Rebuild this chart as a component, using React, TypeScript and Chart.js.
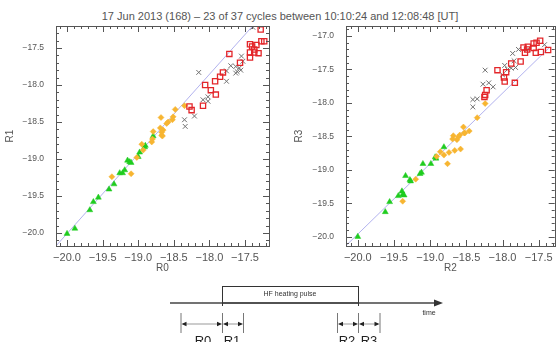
import React, { useEffect, useRef } from "react";
import { Chart, registerables } from "chart.js";
Chart.register(...registerables);

const TITLE = "17 Jun 2013 (168) \u2013 23 of 37 cycles between 10:10:24 and 12:08:48 [UT]";

// Left panel: R0 (x) vs R1 (y)
const leftRed = [[-17.28,-17.25],[-17.72,-17.58],[-17.43,-17.45],[-17.40,-17.48],[-17.34,-17.46],[-17.37,-17.52],[-17.43,-17.56],[-17.37,-17.56],[-17.31,-17.57],[-17.43,-17.63],[-17.27,-17.41],[-17.23,-17.41],[-17.57,-17.70],[-17.81,-17.83],[-17.85,-17.89],[-17.92,-17.95],[-18.06,-18.00],[-17.98,-18.07],[-17.91,-18.13],[-18.09,-18.28],[-18.28,-18.29],[-18.25,-18.34]];
const leftGray = [[-17.39,-17.22],[-17.55,-17.61],[-17.53,-17.68],[-17.63,-17.75],[-17.58,-17.77],[-17.56,-17.80],[-17.61,-17.82],[-17.63,-17.84],[-17.70,-17.74],[-17.76,-17.81],[-17.76,-17.95],[-18.15,-17.83],[-18.02,-18.16],[-18.09,-18.20],[-18.02,-18.22],[-18.21,-18.42],[-18.35,-18.47],[-18.34,-18.56]];
const leftOrange = [[-18.48,-18.33],[-18.35,-18.28],[-18.68,-18.44],[-18.51,-18.43],[-18.52,-18.47],[-18.58,-18.50],[-18.60,-18.52],[-18.69,-18.58],[-18.65,-18.61],[-18.79,-18.63],[-18.67,-18.64],[-18.67,-18.68],[-18.66,-18.69],[-18.80,-18.73],[-18.81,-18.77],[-18.95,-18.80],[-18.93,-18.88],[-19.02,-18.98],[-19.10,-19.20],[-19.37,-19.24]];
const leftGreen = [[-18.79,-18.69],[-18.90,-18.82],[-18.91,-18.84],[-18.98,-18.91],[-19.00,-18.97],[-19.15,-19.02],[-19.12,-19.04],[-19.10,-19.05],[-19.19,-19.15],[-19.22,-19.19],[-19.26,-19.19],[-19.34,-19.34],[-19.41,-19.41],[-19.56,-19.52],[-19.63,-19.58],[-19.68,-19.69],[-19.89,-19.94],[-20.00,-20.01]];
const leftFit = [[-20.155,-20.175],[-17.39,-17.2]];

// Right panel: R2 (x) vs R3 (y)
const rightRed = [[-17.48,-17.07],[-17.53,-17.10],[-17.57,-17.11],[-17.65,-17.16],[-17.71,-17.17],[-17.66,-17.20],[-17.57,-17.18],[-17.69,-17.25],[-17.54,-17.25],[-17.47,-17.24],[-17.37,-17.21],[-17.75,-17.38],[-17.88,-17.41],[-18.07,-17.51],[-17.95,-17.54],[-17.98,-17.62],[-17.97,-17.68],[-17.83,-17.70],[-18.22,-17.81],[-18.24,-17.88],[-18.25,-17.91]];
const rightGray = [[-17.42,-17.13],[-17.65,-17.20],[-17.78,-17.20],[-17.86,-17.26],[-17.84,-17.37],[-17.97,-17.44],[-17.82,-17.47],[-17.88,-17.48],[-17.93,-17.50],[-18.00,-17.58],[-18.24,-17.51],[-18.19,-17.70],[-18.27,-17.72],[-18.13,-17.76],[-18.41,-17.95],[-18.35,-17.94],[-18.41,-18.06]];
const rightOrange = [[-18.24,-18.01],[-18.35,-18.22],[-18.54,-18.36],[-18.52,-18.45],[-18.46,-18.42],[-18.68,-18.49],[-18.59,-18.48],[-18.61,-18.51],[-18.69,-18.54],[-18.63,-18.55],[-18.53,-18.45],[-18.58,-18.69],[-18.66,-18.71],[-18.86,-18.73],[-18.81,-18.78],[-18.74,-18.74],[-18.91,-18.80],[-18.76,-18.91],[-19.20,-19.14],[-19.38,-19.47]];
const rightGreen = [[-18.81,-18.66],[-18.93,-18.81],[-18.92,-18.83],[-18.99,-18.91],[-19.10,-18.91],[-19.12,-19.04],[-19.14,-19.06],[-19.28,-19.15],[-19.27,-19.17],[-19.34,-19.09],[-19.39,-19.32],[-19.38,-19.37],[-19.44,-19.39],[-19.36,-19.38],[-19.56,-19.48],[-19.62,-19.63],[-20.00,-20.00]];
const rightFit = [[-20.16,-20.13],[-17.36,-17.18]];

const leftXTicks = [-20.0, -19.5, -19.0, -18.5, -18.0, -17.5];
const leftYTicks = [-20.0, -19.5, -19.0, -18.5, -18.0, -17.5];
const rightXTicks = [-20.0, -19.5, -19.0, -18.5, -18.0, -17.5];
const rightYTicks = [-20.0, -19.5, -19.0, -18.5, -18.0, -17.5, -17.0];

const toPts = (a: number[][]) => a.map(([x, y]) => ({ x, y }));
const fmt = (v: number) => (v < 0 ? "\u2212" : "") + Math.abs(v).toFixed(1);
const TEXT = "#555";

const framePlugin = {
  id: "frameTicks",
  afterDatasetsDraw(chart: any) {
    const { ctx, chartArea: a, scales } = chart;
    const xs = scales.x, ys = scales.y;
    ctx.save();
    ctx.strokeStyle = "#555";
    ctx.lineWidth = 1;
    ctx.strokeRect(Math.round(a.left) + 0.5, Math.round(a.top) + 0.5, Math.round(a.right - a.left), Math.round(a.bottom - a.top));
    const ln = (x1: number, y1: number, x2: number, y2: number) => {
      ctx.beginPath(); ctx.moveTo(x1, y1); ctx.lineTo(x2, y2); ctx.stroke();
    };
    for (let k = Math.ceil(xs.min * 10 - 1e-6); k <= Math.floor(xs.max * 10 + 1e-6); k++) {
      const len = k % 5 === 0 ? 6 : 3;
      const px = Math.round(xs.getPixelForValue(k / 10)) + 0.5;
      ln(px, a.bottom, px, a.bottom - len);
      ln(px, a.top, px, a.top + len);
    }
    for (let k = Math.ceil(ys.min * 10 - 1e-6); k <= Math.floor(ys.max * 10 + 1e-6); k++) {
      const len = k % 5 === 0 ? 6 : 3;
      const py = Math.round(ys.getPixelForValue(k / 10)) + 0.5;
      ln(a.left, py, a.left + len, py);
      ln(a.right, py, a.right - len, py);
    }
    ctx.restore();
  },
};

function makeConfig(p: any): any {
  return {
    type: "scatter",
    data: {
      datasets: [
        { data: toPts(p.red), pointStyle: "rect", radius: 3.7, borderColor: "#e3262a", backgroundColor: "rgba(255,255,255,0)", borderWidth: 1.3 },
        { data: toPts(p.gray), pointStyle: "crossRot", radius: 3.4, borderColor: "#707070", backgroundColor: "#707070", borderWidth: 1 },
        { data: toPts(p.orange), pointStyle: "rectRot", radius: 3, borderColor: "#f7b531", backgroundColor: "#f7b531", borderWidth: 0.5 },
        { data: toPts(p.green), pointStyle: "triangle", radius: 3.4, borderColor: "#1fcc1f", backgroundColor: "#1fcc1f", borderWidth: 0.5 },
        { type: "line", data: toPts(p.fit), borderColor: "rgba(165,165,235,0.85)", borderWidth: 1, pointRadius: 0, fill: false },
      ],
    },
    options: {
      responsive: false,
      maintainAspectRatio: false,
      animation: false,
      devicePixelRatio: 1,
      layout: { padding: { left: 0, top: 26, right: p.padRight, bottom: 0 } },
      plugins: { legend: { display: false }, tooltip: { enabled: false } },
      scales: {
        x: {
          type: "linear", min: p.xmin, max: p.xmax,
          grid: { display: false, drawTicks: false }, border: { display: false },
          afterBuildTicks: (s: any) => { s.ticks = p.xTicks.map((v: number) => ({ value: v })); },
          afterFit: (s: any) => { s.height = 34; },
          ticks: { padding: 5, color: TEXT, font: { family: "Liberation Sans", size: 11 }, callback: (v: any) => fmt(Number(v)), maxRotation: 0, autoSkip: false },
          title: { display: true, text: p.xTitle, color: TEXT, font: { family: "Liberation Sans", size: 10 }, padding: { top: 0, bottom: 6 } },
        },
        y: {
          type: "linear", min: p.ymin, max: p.ymax,
          grid: { display: false, drawTicks: false }, border: { display: false },
          afterBuildTicks: (s: any) => { s.ticks = p.yTicks.map((v: number) => ({ value: v })); },
          afterFit: (s: any) => { s.width = p.yWidth; },
          ticks: { padding: 12, color: TEXT, font: { family: "Liberation Sans", size: 8.5 }, callback: (v: any) => fmt(Number(v)), autoSkip: false },
          title: { display: true, text: p.yTitle, color: TEXT, font: { family: "Liberation Sans", size: 10 }, padding: { top: p.yTitlePad, bottom: 0 } },
        },
      },
    },
    plugins: [framePlugin],
  };
}

function drawDiagram(c: HTMLCanvasElement) {
  const ctx = c.getContext("2d")!;
  const oy = 280;
  ctx.clearRect(0, 0, c.width, c.height);
  ctx.save();
  ctx.translate(0, -oy);
  const ln = (x1: number, y1: number, x2: number, y2: number) => {
    ctx.beginPath(); ctx.moveTo(x1, y1); ctx.lineTo(x2, y2); ctx.stroke();
  };
  const tri = (x: number, y: number, dir: number, l: number, w: number) => {
    ctx.beginPath(); ctx.moveTo(x, y); ctx.lineTo(x - dir * l, y - w); ctx.lineTo(x - dir * l, y + w); ctx.closePath(); ctx.fill();
  };
  // time axis
  ctx.strokeStyle = "#444"; ctx.fillStyle = "#333"; ctx.lineWidth = 1.5;
  ln(170, 303, 436, 303);
  tri(443, 303, 1, 9, 3.5);
  // pulse box
  ctx.lineWidth = 1; ctx.strokeStyle = "#333";
  ctx.strokeRect(222.5, 286.5, 136, 16.5);
  ln(222.5, 303, 222.5, 306);
  ln(358.5, 303, 358.5, 306);
  ctx.font = "7px 'Liberation Sans'";
  ctx.textAlign = "center"; ctx.textBaseline = "middle"; ctx.fillStyle = "#333";
  ctx.fillText("HF heating pulse", 290, 294.5);
  ctx.fillText("time", 429, 313);
  // interval markers
  const groups = [[181, 222.5, 243.5], [337.5, 358.5, 380]];
  for (const g of groups) {
    ctx.strokeStyle = "#777"; ctx.lineWidth = 1;
    for (const x of g) ln(x, 313, x, 333);
    ctx.strokeStyle = "#999";
    for (let i = 0; i < g.length - 1; i++) {
      ln(g[i] + 2, 324, g[i + 1] - 2, 324);
      ctx.fillStyle = "#222";
      tri(g[i] + 0.5, 324, -1, 5, 2.3);
      tri(g[i + 1] - 0.5, 324, 1, 5, 2.3);
    }
  }
  ctx.fillStyle = "#222";
  ctx.font = "13px 'Liberation Sans'";
  ctx.textBaseline = "top";
  ctx.fillText("R0", 203, 335);
  ctx.fillText("R1", 232, 335);
  ctx.fillText("R2", 347, 335);
  ctx.fillText("R3", 369, 335);
  ctx.restore();
}

export default function App() {
  const leftRef = useRef<HTMLCanvasElement>(null);
  const rightRef = useRef<HTMLCanvasElement>(null);
  const diagRef = useRef<HTMLCanvasElement>(null);

  useEffect(() => {
    const left = new Chart(leftRef.current!, makeConfig({
      red: leftRed, gray: leftGray, orange: leftOrange, green: leftGreen, fit: leftFit,
      xmin: -20.155, xmax: -17.163, ymin: -20.176, ymax: -17.203,
      xTicks: leftXTicks, yTicks: leftYTicks, xTitle: "R0", yTitle: "R1",
      padRight: 11, yWidth: 56, yTitlePad: 4,
    }));
    const right = new Chart(rightRef.current!, makeConfig({
      red: rightRed, gray: rightGray, orange: rightOrange, green: rightGreen, fit: rightFit,
      xmin: -20.163, xmax: -17.279, ymin: -20.139, ymax: -16.85,
      xTicks: rightXTicks, yTicks: rightYTicks, xTitle: "R2", yTitle: "R3",
      padRight: 2, yWidth: 66, yTitlePad: 13,
    }));
    if (diagRef.current) drawDiagram(diagRef.current);
    return () => { left.destroy(); right.destroy(); };
  }, []);

  return (
    <div style={{ position: "absolute", left: 0, top: 0, width: 560, height: 342, overflow: "hidden", background: "#fff" }}>
      <div style={{ position: "absolute", left: 0, top: 10, width: 560, textAlign: "center", font: "11px 'Liberation Sans'", color: TEXT, lineHeight: "13px", whiteSpace: "nowrap" }}>{TITLE}</div>
      <canvas ref={leftRef} width={280} height={280} style={{ position: "absolute", left: 0, top: 0, width: 280, height: 280 }} />
      <canvas ref={rightRef} width={280} height={280} style={{ position: "absolute", left: 280, top: 0, width: 280, height: 280 }} />
      <canvas ref={diagRef} width={560} height={62} style={{ position: "absolute", left: 0, top: 280, width: 560, height: 62 }} />
    </div>
  );
}
